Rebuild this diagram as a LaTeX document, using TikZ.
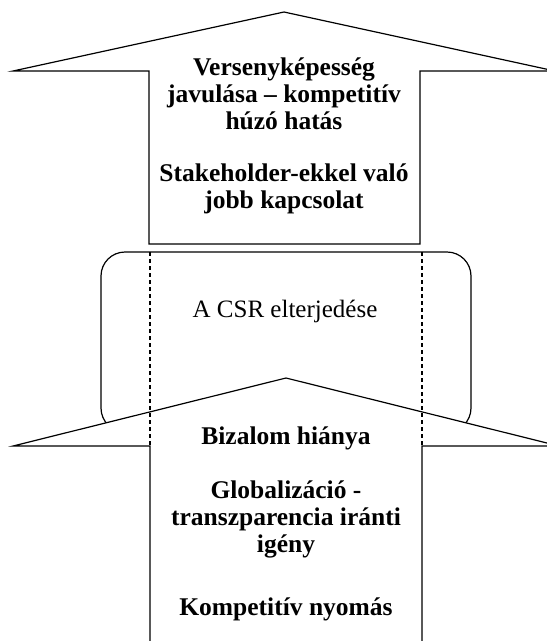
\documentclass[tikz,border=0pt]{standalone}
\usepackage{fontspec}
\setmainfont{Liberation Serif}
\usetikzlibrary{positioning}

\tikzset{
  bigarrow/.style={draw, line width=1.2pt, fill=white, line join=miter},
  hiddenedge/.style={line width=1.2pt, dash pattern=on 4pt off 3pt},
  arrowtext/.style={font=\fontsize{25.5}{27}\selectfont\bfseries, align=center, inner sep=0pt},
}

\begin{document}
\begin{tikzpicture}[x=1pt, y=-1pt]
    \useasboundingbox (0,0) rectangle (547,641);
    \clip (0,0) rectangle (547,641);

    % upper arrow
    \draw[bigarrow] (149,244) -- (149,71) -- (13,71) -- (284,12) -- (555,71) -- (420,71) -- (420,244) -- cycle;

    % middle box
    \draw[line width=1.2pt, rounded corners=24pt] (101,252) rectangle (471,432);
    \node[font=\fontsize{25}{27}\selectfont, inner sep=0pt] (csr) at (285,311) {A CSR elterjedése};

    % lower arrow
    \draw[bigarrow] (150,660) -- (150,446) -- (13,446) -- (286,378) -- (559,446) -- (422,446) -- (422,660);
    \coordinate (dl) at (150,252);
    \coordinate (dr) at (422,252);
    \draw[hiddenedge] (dl) -- (150,446);
    \draw[hiddenedge] (dr) -- (422,446);

    \node[arrowtext, anchor=north] (pull)  at (284,58)  {Versenyképesség\\javulása -- kompetitív\\húzó hatás};
    \node[arrowtext, anchor=north] (stake) at (284,164) {Stakeholder-ekkel való\\jobb kapcsolat};

    \node[arrowtext, anchor=north] (trust) at (286,427) {Bizalom hiánya};
    \node[arrowtext, anchor=north] (glob)  at (286,481) {Globalizáció -\\transzparencia iránti\\igény};
    \node[arrowtext, anchor=north] (push)  at (286,598) {Kompetitív nyomás};
\end{tikzpicture}
\end{document}
